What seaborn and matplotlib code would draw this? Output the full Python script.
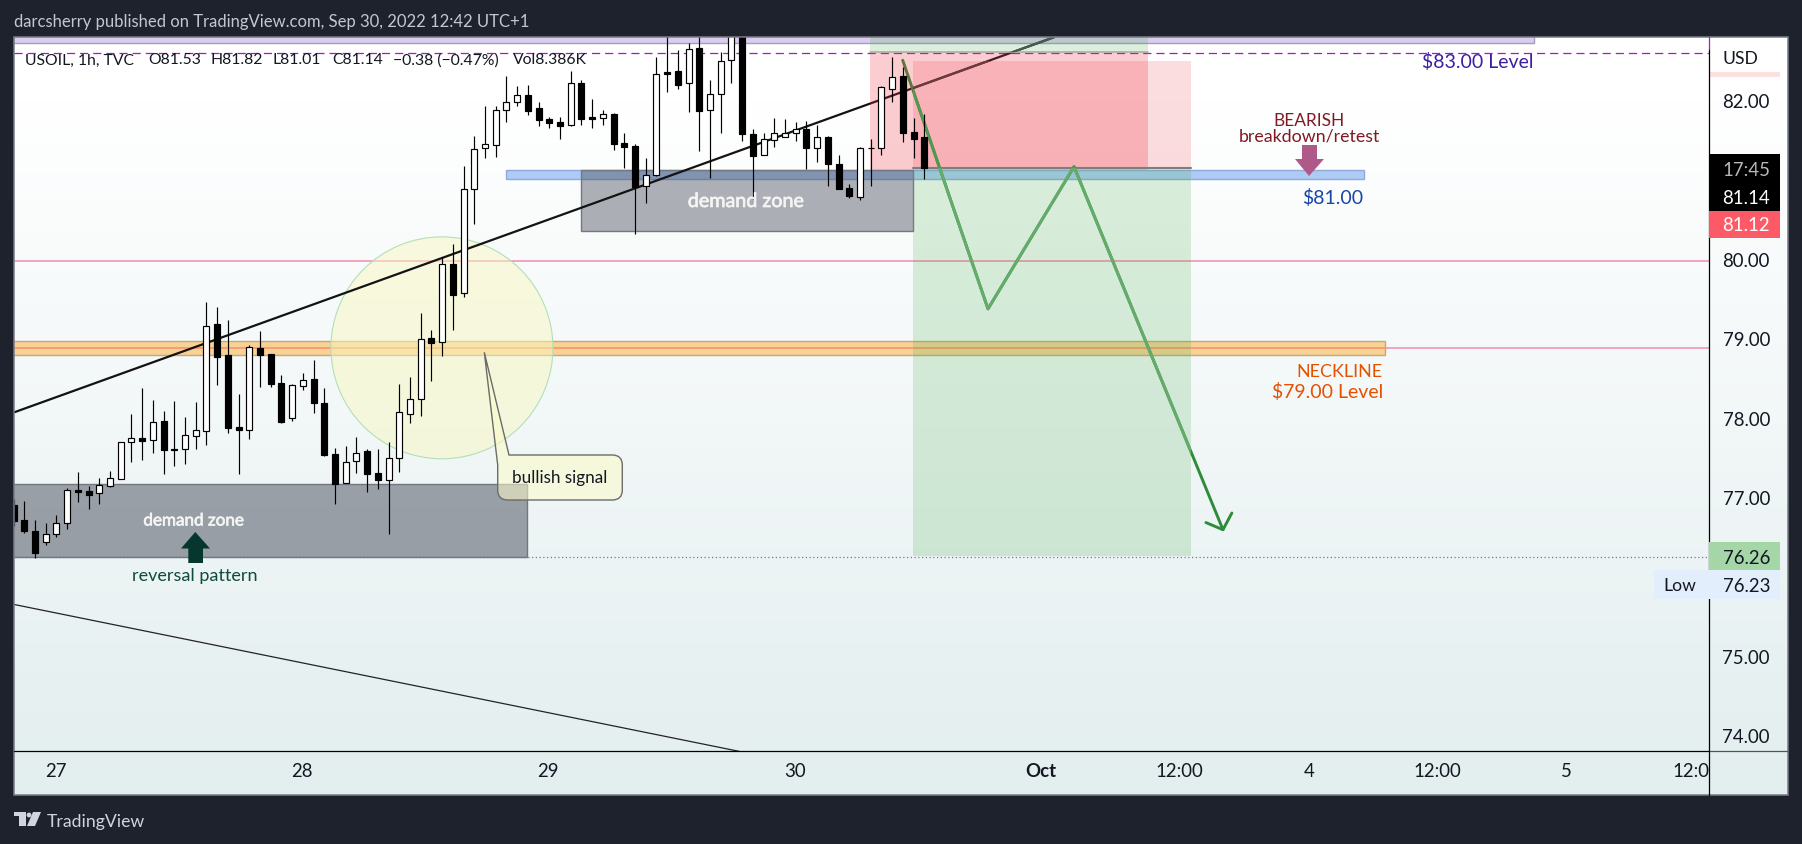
import numpy as np
import pandas as pd
import matplotlib
matplotlib.use("Agg")
import matplotlib.pyplot as plt
import matplotlib.patheffects as pe
import seaborn as sns
from matplotlib.patches import Rectangle, Ellipse, Polygon, PathPatch, Circle
from matplotlib.path import Path
from matplotlib.transforms import Bbox

# ---------- data (hourly USOIL candles) ----------
opens = [76.90,76.71,76.58,76.44,76.54,76.67,77.09,77.08,77.05,77.14,77.23,77.69,77.74,77.72,77.96,77.59,77.61,77.77,77.83,79.18,
         78.79,77.88,77.85,78.88,78.80,78.44,78.00,78.40,78.49,78.18,77.54,77.18,77.45,77.58,77.30,77.22,77.49,78.05,78.24,79.00,
         78.95,79.94,79.57,80.88,81.39,81.43,81.88,81.97,82.06,81.90,81.76,81.72,81.69,82.21,81.78,81.77,81.82,81.46,81.42,80.92,
         81.05,82.35,82.37,82.21,82.65,81.87,82.07,82.50,82.89,81.57,81.31,81.49,81.54,81.58,81.64,81.40,81.53,81.19,80.89,80.78,
         81.40,81.39,82.14,82.30,81.60,81.53]
highs = [76.98,76.95,76.71,76.68,76.77,77.12,77.32,77.14,77.24,77.33,77.70,78.05,78.37,78.22,78.08,78.21,78.01,78.20,79.46,79.39,
         79.23,78.30,78.92,79.09,78.80,78.54,78.42,78.56,78.73,78.37,77.62,77.64,77.76,77.61,77.61,77.69,78.42,78.51,79.32,79.10,
         80.02,80.19,81.17,81.55,81.92,81.92,82.30,82.18,82.19,81.98,81.79,81.79,82.37,82.25,82.01,81.87,81.84,81.58,81.45,81.27,
         82.54,82.89,82.63,82.72,82.89,82.25,82.60,82.95,82.95,81.64,81.58,81.77,81.76,81.72,81.74,81.69,81.55,81.31,80.94,81.41,
         81.51,82.17,82.54,82.42,81.77,81.82]
lows = [76.64,76.55,76.24,76.40,76.50,76.60,76.94,76.85,76.91,77.13,77.23,77.44,77.47,77.56,77.29,77.39,77.42,77.61,77.66,78.41,
        77.81,77.29,77.73,78.39,78.39,77.93,77.96,78.35,78.06,77.52,76.91,77.18,77.30,77.06,77.10,76.54,77.32,77.93,78.02,78.46,
        78.78,79.10,79.52,80.44,81.27,81.28,81.72,81.92,81.81,81.67,81.65,81.51,81.67,81.69,81.65,81.69,81.37,81.14,80.31,80.70,
        81.04,82.10,82.14,81.85,81.36,81.02,81.58,82.21,81.48,80.75,81.31,81.41,81.54,81.48,81.13,81.22,80.92,80.88,80.77,80.74,
        80.92,81.31,81.98,81.47,81.27,81.01]
closes = [76.70,76.58,76.30,76.53,76.67,77.09,77.07,77.03,77.15,77.24,77.69,77.74,77.71,77.94,77.59,77.61,77.78,77.84,79.16,78.77,
          77.87,77.85,78.89,78.79,78.42,77.95,78.41,78.48,78.18,77.53,77.17,77.44,77.56,77.29,77.22,77.49,78.07,78.24,78.99,78.94,
          79.94,79.55,80.88,81.38,81.44,81.88,81.97,82.06,81.86,81.75,81.71,81.67,82.21,81.76,81.76,81.82,81.45,81.41,80.91,81.05,
          82.33,82.33,82.19,82.64,81.86,82.07,82.49,82.89,81.57,81.30,81.51,81.59,81.58,81.64,81.40,81.54,81.19,80.88,80.79,81.40,
          81.39,82.16,82.29,81.58,81.51,81.14]

price_ticks = [74, 75, 77, 78, 79, 80, 82]
time_tick_bars = [3.93, 26.9, 49.9, 72.9, 95.9, 108.8, 120.9, 132.9, 144.9, 157.0]
time_tick_labels = ["27", "28", "29", "30", "Oct", "12:00", "4", "12:00", "5", "12:00"]

level_83, level_80, level_79, level_low = 82.59, 79.97, 78.88, 76.23
neckline_band = [78.79, 78.96]; neckline_end = 128.0
retest_band = [81.00, 81.115]; retest_bars = [45.95, 126.0]
top_band = [82.72, 83.0]; top_band_end = 141.9
demand_a_bars = [-2, 47.9]; demand_a = [76.25, 77.17]
demand_b_bars = [52.95, 83.94]; demand_b = [80.35, 81.115]
pos_a_bars = [79.9, 105.9]; pos_a_entry, pos_a_stop, pos_a_target = 82.61, 81.12, 83.2
pos_b_bars = [83.94, 109.9]; pos_b_entry, pos_b_stop, pos_b_target = 81.14, 82.49, 76.26
circle_bar, circle_price, circle_rx, circle_ry = 39.98, 78.88, 10.36, 1.397
trend_up_bars = [0.1, 97.1]; trend_up_prices = [78.07, 82.79]
trend_dn_bars = [0.0, 67.7]; trend_dn_prices = [75.65, 73.80]
path_bars = [82.98, 90.94, 98.97, 112.87]; path_prices = [82.50, 79.37, 81.16, 76.59]
head_bars = [111.28, 112.87, 113.7]; head_prices = [76.68, 76.59, 76.80]

candles = pd.DataFrame({"bar": np.arange(len(opens)), "open": opens, "high": highs, "low": lows, "close": closes})

# ---------- figure ----------
W, H = 1802, 845
sns.set_theme(style="white")
FONT = ["Lato", "DejaVu Sans"]
plt.rcParams["font.family"] = FONT
INK = "#131722"
FS = 12.3      # words
FN = 13.4      # axis numbers
rgba = matplotlib.colors.to_rgba

fig = plt.figure(figsize=(W/100, H/100), dpi=100, facecolor="#1e222d")

def px_axes(z):
    a = fig.add_axes([0, 0, 1, 1], zorder=z)
    a.set_xlim(0, W); a.set_ylim(H, 0); a.axis("off"); a.patch.set_alpha(0)
    return a

bg = px_axes(0)
top_c = np.array([255, 255, 255]) / 255; bot_c = np.array([227, 238, 239]) / 255
t = np.clip((np.linspace(38, 796, 200) - 100) / 696, 0, 1)[:, None, None]
grad = top_c[None, None, :] * (1 - t) + bot_c[None, None, :] * t
bg.imshow(grad, extent=[14, 1787.5, 796, 38], aspect="auto", zorder=0)
bg.set_xlim(0, W); bg.set_ylim(H, 0)

# main price axes, mapped on the chart pane
L, R, T, B = 14, 1709, 38, 752
XLIM = (0.04, 158.23)
YLIM = (73.804, 82.793)
ax = fig.add_axes([L/W, 1-B/H, (R-L)/W, (B-T)/H], zorder=1)
ax.patch.set_alpha(0)
ax.set_xlim(*XLIM); ax.set_ylim(*YLIM)
for s in ax.spines.values():
    s.set_visible(False)

# levels
ax.axhline(level_83, color="#a917c2", lw=0.9, ls=(0, (6.5, 4)), zorder=1)
ax.axhline(level_80, color="#f3a3ba", lw=1.4, zorder=1)
ax.axhline(level_79, color="#f3a3ba", lw=1.4, zorder=1)
ax.axhline(level_low + 0.02, color="#787b86", lw=0.9, ls=(0, (1, 2)), zorder=1)

def band(x0, x1, y0, y1, fc, ec, alpha=1.0, z=2, lw=1.0):
    r = Rectangle((x0, y0), x1 - x0, y1 - y0, facecolor=rgba(fc, alpha), edgecolor=ec, lw=lw, zorder=z)
    ax.add_patch(r)
    return r

band(-2, top_band_end, top_band[0], top_band[1], "#dacdee", "#a89bc0")
band(-2, neckline_end, neckline_band[0], neckline_band[1], "#ff9800", "#c4a878", alpha=0.40, z=2.1)
band(retest_bars[0], retest_bars[1], retest_band[0], retest_band[1], "#aecbf5", "#8fabd9")
band(demand_a_bars[0], demand_a_bars[1], demand_a[0], demand_a[1], "#444a58", "#74777d", alpha=0.5, z=2.2)
band(demand_b_bars[0], demand_b_bars[1], demand_b[0], demand_b[1], "#444a58", "#74777d", alpha=0.43, z=2.2)
ax.add_patch(Ellipse((circle_bar, circle_price), 2*circle_rx, 2*circle_ry,
                     facecolor=rgba("#f7f7c0", 0.5), edgecolor="#b3dfb8", lw=0.8, zorder=2.5))

# trend lines and forecast path through seaborn
sns.lineplot(x=trend_up_bars, y=trend_up_prices, color="#131313", lw=1.6, ax=ax, zorder=3, estimator=None)
sns.lineplot(x=trend_dn_bars, y=trend_dn_prices, color="#232323", lw=0.9, ax=ax, zorder=3, estimator=None)
sns.lineplot(x=path_bars, y=path_prices, color="#2c8c3a", lw=2.1, ax=ax, zorder=3.1, sort=False, estimator=None)
sns.lineplot(x=head_bars, y=head_prices, color="#2c8c3a", lw=2.1, ax=ax, zorder=3.1, sort=False, estimator=None)

# position tools, translucent over the lines
band(pos_a_bars[0], pos_a_bars[1], pos_a_stop, pos_a_entry, "#f23645", "none", alpha=0.25, z=4, lw=0)
band(pos_a_bars[0], pos_a_bars[1], pos_a_entry, pos_a_target, "#4caf50", "none", alpha=0.20, z=4, lw=0)
zone_risk = band(pos_b_bars[0], pos_b_bars[1], pos_b_entry, pos_b_stop, "#f23645", "none", alpha=0.17, z=4, lw=0)
zone_gain = band(pos_b_bars[0], pos_b_bars[1], pos_b_target, pos_b_entry, "#4caf50", "none", alpha=0.20, z=4, lw=0)
ax.plot(pos_a_bars, [pos_a_entry]*2, color="#a9a9a9", lw=1.1, zorder=4.1)
ax.plot(pos_b_bars, [pos_b_entry]*2, color="#7d7d7d", lw=1.5, zorder=4.1)

# the zones wash out the lines beneath them
ln, = ax.plot(path_bars, path_prices, color="#66ab6c", lw=2.1, zorder=4.2)
ln.set_clip_path(zone_gain)
ln, = ax.plot(path_bars, path_prices, color="#4f9a52", lw=2.1, zorder=4.2)
ln.set_clip_path(zone_risk)
ln, = ax.plot(trend_up_bars, trend_up_prices, color="#6b3a42", lw=1.6, zorder=4.2)
ln.set_clip_path(zone_risk)
ln, = ax.plot(trend_up_bars, trend_up_prices, color="#4a5a50", lw=1.6, zorder=4.2)
clip_strip = Rectangle((pos_a_bars[0], pos_a_entry), pos_a_bars[1]-pos_a_bars[0], pos_a_target-pos_a_entry,
                       transform=ax.transData, fill=False, lw=0)
ax.add_patch(clip_strip)
ln.set_clip_path(clip_strip)

# candles
up = candles["close"] >= candles["open"]
ax.vlines(candles["bar"], candles["low"], candles["high"], color="black", lw=0.85, zorder=5)
ax.bar(candles["bar"], (candles["close"] - candles["open"]).abs().clip(lower=0.01),
       bottom=candles[["open", "close"]].min(axis=1), width=0.56,
       color=np.where(up, "white", "black").tolist(), edgecolor="black", lw=0.85, zorder=6)
ax.set_xlim(*XLIM); ax.set_ylim(*YLIM)
ax.set_xlabel(""); ax.set_ylabel("")

# real tick labels
ax.yaxis.tick_right()
ax.set_yticks(price_ticks)
ax.set_yticklabels([f"{p:.2f}" for p in price_ticks], fontsize=FN, color=INK, ha="right")
ax.tick_params(axis="y", length=0, pad=43.9)
ax.set_xticks(time_tick_bars)
ax.set_xticklabels(time_tick_labels, fontsize=FN, color=INK)
ax.get_xticklabels()[4].set_fontweight("bold")
ax.tick_params(axis="x", length=0, pad=8)
clip = Bbox([[L, 0], [R, H]])
for lab in ax.get_xticklabels():
    lab.set_clip_box(clip); lab.set_clip_on(True)

# ---------- chrome and annotations ----------
ov = px_axes(3)
def txt(x, y, s, color=INK, size=FS, ha="left", va="center", **k):
    return ov.text(x, y + 1.5, s, color=color, fontsize=size, ha=ha, va=va, **k)

# pane frame
ov.add_patch(Rectangle((14, 38), 1773.5, 758, fill=False, edgecolor="#787b86", lw=1.1, zorder=1))
ov.plot([14, R], [752, 752], color="black", lw=0.9, zorder=2)
ov.plot([R, 1787], [752, 752], color="#50535e", lw=0.9, zorder=2)
ov.plot([R, R], [50, 796], color="black", lw=0.9, zorder=2)
ov.plot([R, R], [38, 50], color="#9b27b0", lw=0.9, zorder=2)
ov.add_patch(Rectangle((R, 73), 71, 5, color="#fde0e0", lw=0))
txt(1722, 58, "USD", size=12.6)

# axis price boxes
BX = 1780 - R
ov.add_patch(Rectangle((R, 155), BX, 57, color="black", lw=0, zorder=3))
ov.add_patch(Rectangle((R, 212), BX, 27, color="#fd5a68", lw=0, zorder=3))
ov.add_patch(Rectangle((R, 543), BX, 28, color="#a5d6a7", lw=0, zorder=3))
ov.add_patch(Rectangle((1654, 571), 1780-1654, 29, color="#e3eefc", lw=0, zorder=3))
txt(1770, 169, "17:45", color="#b8b8b8", size=FN, ha="right", zorder=4)
txt(1770, 197, "81.14", color="white", size=FN, ha="right", zorder=4)
txt(1770, 224, "81.12", color="white", size=FN, ha="right", zorder=4)
txt(1770, 557, "76.26", size=FN, ha="right", zorder=4)
txt(1770, 585, "76.23", size=FN, ha="right", zorder=4)
txt(1663, 585, "Low", size=12.6, zorder=4)

# header / footer
txt(14, 21, "darcsherry published on TradingView.com, Sep 30, 2022 12:42 UTC+1", color="#c4c7cf", size=12)
for x, s in zip([25, 148, 211, 273, 332, 393, 513],
                ["USOIL, 1h, TVC", "O81.53", "H81.82", "L81.01", "C81.14", "\u22120.38 (\u22120.47%)", "Vol8.386K"]):
    txt(x, 59, s, size=11.3)
logo = "#d1d4dc"
ov.add_patch(Polygon([(14, 813), (26, 813), (26, 827), (19, 827), (19, 817), (14, 817)], color=logo, lw=0))
ov.add_patch(Circle((29, 816), 2.4, color=logo, lw=0))
ov.add_patch(Polygon([(33, 813), (41, 813), (35, 827), (27, 827)], color=logo, lw=0))
txt(47, 821, "TradingView", color=logo, size=12.7)

# annotations
halo = [pe.withStroke(linewidth=0.5, foreground="#f4f4f4")]
txt(194, 520, "demand zone", color="#f4f4f4", ha="center", size=12.3, path_effects=halo)
txt(746, 201, "demand zone", color="#f4f4f4", ha="center", size=14.2, path_effects=halo)
txt(195, 575, "reversal pattern", color="#0e4a3d", ha="center", size=13)
ov.add_patch(Polygon([(195.3, 533), (210, 549.5), (203, 549.5), (203, 564), (188.3, 564), (188.3, 549.5), (181, 549.5)],
                     color="#05372f", lw=0))
txt(1533, 61, "$83.00 Level", color="#3d1fa3", ha="right", size=14)
txt(1309, 119, "BEARISH", color="#801922", ha="center", size=12.4)
txt(1309, 135, "breakdown/retest", color="#801922", ha="center", size=12.8)
ov.add_patch(Polygon([(1302, 146), (1317, 146), (1317, 160), (1324, 160), (1309, 177), (1295, 160), (1302, 160)],
                     color="#ad5a88", lw=0))
txt(1333, 196, "$81.00", color="#1a46a8", ha="center", size=14)
txt(1383, 371, "NECKLINE", color="#e65100", ha="right", size=12.9)
txt(1383, 391, "$79.00 Level", color="#e65100", ha="right", size=14)

# callout
l, r, tp, bt, rad = 497.7, 622.3, 456, 501, 10
verts = [(484.3, 353.3), (509, 456), (r-rad, tp), (r, tp), (r, tp+rad), (r, bt-rad), (r, bt), (r-rad, bt),
         (l+rad, bt), (l, bt), (l, bt-rad), (l, 466), (484.3, 353.3)]
codes = [Path.MOVETO, Path.LINETO, Path.LINETO, Path.CURVE3, Path.CURVE3, Path.LINETO, Path.CURVE3, Path.CURVE3,
         Path.LINETO, Path.CURVE3, Path.CURVE3, Path.LINETO, Path.CLOSEPOLY]
ov.add_patch(PathPatch(Path(verts, codes), facecolor=rgba("#fbfbc8", 0.55),
                       edgecolor="#6b6b6b", lw=1.0, zorder=2))
txt(560, 477, "bullish signal", ha="center", zorder=3, size=12.3)

fig.savefig("out.png", dpi=100, facecolor=fig.get_facecolor())
